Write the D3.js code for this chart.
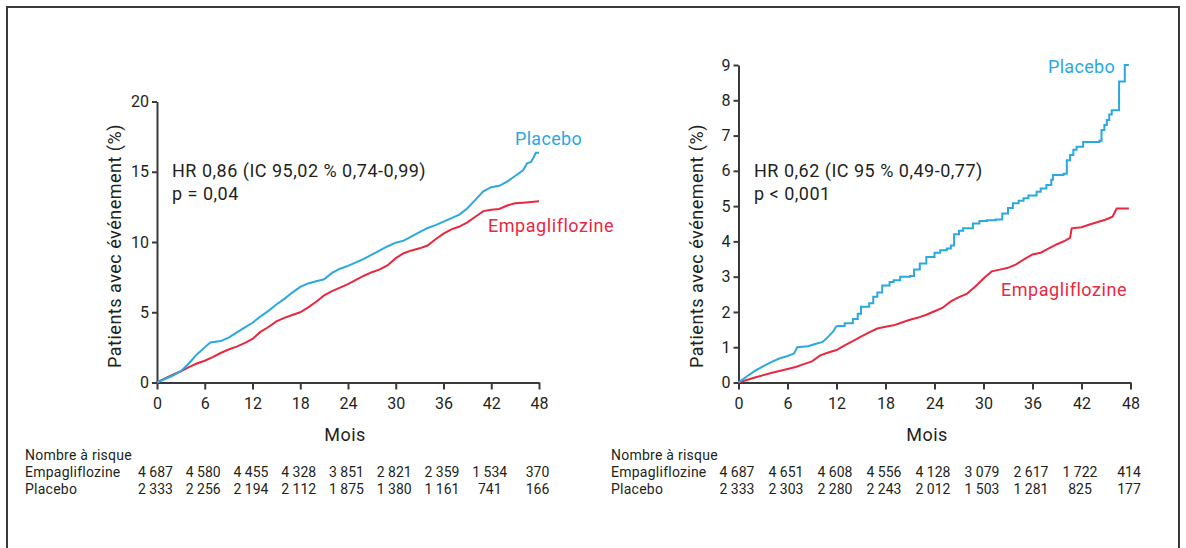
<!DOCTYPE html>
<html>
<head>
<meta charset="utf-8">
<script src="https://d3js.org/d3.v7.min.js"></script>
<style>
  body { margin: 0; background: #fff; }
  svg { font-family: "Roboto", sans-serif; }
  .axis path, .axis line { stroke: #3a3a3a; stroke-width: 2; }
  .axis text { font-family: "Roboto", sans-serif; font-size: 16px; fill: #231f20; }
  .lbl { fill: #231f20; letter-spacing: 0.5px; }
</style>
</head>
<body>
<svg id="chart" width="1186" height="548"></svg>
<script>
// months at which the numbers at risk are given (also x ticks)
var months = [0, 6, 12, 18, 24, 30, 36, 42, 48];

// left panel : [month, % patients]
var leftPlacebo = [[0,0],[1,0.25],[2,0.5],[3,0.8],[4,1.35],[5,2.0],[6,2.5],[6.7,2.85],[8,2.95],[9,3.2],[10,3.55],[11,3.9],[12,4.25],[13,4.7],[14,5.1],[15,5.55],[16,5.95],[17,6.4],[18,6.8],[19,7.05],[20,7.2],[21,7.35],[22,7.8],[23,8.1],[24,8.3],[25,8.55],[26,8.8],[27,9.1],[28,9.4],[29,9.7],[30,9.95],[31,10.1],[32,10.4],[33,10.7],[34,11.0],[35,11.2],[36,11.45],[37,11.7],[38,11.95],[39,12.4],[40,13.0],[41,13.6],[42,13.9],[43,14.0],[44,14.3],[45,14.7],[46,15.1],[46.5,15.6],[47,15.7],[47.3,16.0],[47.6,16.35],[48,16.35]];
var leftEmpa = [[0,0],[1,0.3],[2,0.55],[3,0.8],[4,1.1],[5,1.35],[6,1.55],[7,1.8],[8,2.1],[9,2.35],[10,2.55],[11,2.8],[12,3.1],[13,3.6],[14,3.95],[15,4.35],[16,4.6],[17,4.8],[18,5.0],[19,5.35],[20,5.75],[21,6.2],[22,6.5],[23,6.75],[24,7.0],[25,7.3],[26,7.6],[27,7.85],[28,8.05],[29,8.35],[30,8.85],[31,9.2],[32,9.4],[33,9.55],[34,9.75],[35,10.2],[36,10.6],[37,10.9],[38,11.1],[39,11.4],[40,11.8],[41,12.2],[42,12.3],[43,12.35],[44,12.6],[45,12.75],[46,12.8],[47,12.85],[48,12.9]];

// right panel : [month, % patients]
var rightPlacebo = [[0,0],[1,0.17],[2,0.33],[3,0.46],[4,0.58],[5,0.68],[6,0.75],[6.8,0.82],[7.2,1.0],[8.5,1.03],[9.5,1.1],[10.3,1.15],[11,1.3],[11.6,1.45],[12,1.6],[13,1.68],[14,1.8],[14.6,1.95],[15,2.15],[16,2.25],[16.5,2.43],[17,2.55],[17.6,2.75],[18.5,2.85],[19,2.9],[19.8,3.0],[21,3.02],[21.5,3.2],[22.2,3.37],[23,3.56],[24,3.68],[24.7,3.75],[25.5,3.8],[26,3.88],[26.4,4.2],[27,4.3],[27.5,4.37],[28.7,4.51],[29.5,4.58],[30.4,4.6],[31.5,4.62],[32.3,4.79],[33,4.95],[33.6,5.08],[34.3,5.15],[34.9,5.22],[35.5,5.3],[36.5,5.41],[37,5.5],[37.7,5.6],[38.3,5.75],[38.5,5.88],[39.8,5.92],[40.2,6.3],[40.6,6.45],[41,6.6],[41.4,6.68],[42.2,6.82],[44.2,6.85],[44.45,7.16],[44.8,7.3],[45.1,7.44],[45.4,7.6],[45.7,7.72],[46.6,8.53],[47.3,9.0],[47.8,9.0]];
var rightEmpa = [[0,0],[2,0.14],[4,0.27],[6,0.38],[7,0.44],[8,0.52],[9,0.6],[10,0.77],[11,0.85],[12,0.92],[13,1.05],[14,1.17],[15,1.3],[16,1.42],[17,1.53],[18,1.58],[19,1.62],[20,1.7],[21,1.78],[22,1.84],[23,1.92],[24,2.02],[25,2.12],[26,2.3],[27,2.42],[28,2.52],[29,2.72],[30,2.95],[31,3.15],[32,3.2],[33,3.25],[34,3.35],[35,3.5],[36,3.63],[37,3.68],[38,3.8],[39,3.92],[40,4.02],[40.6,4.1],[40.8,4.37],[42,4.4],[43,4.48],[44,4.55],[45,4.62],[45.8,4.7],[46.3,4.93],[47.8,4.93]];

// numbers at risk
var leftRiskEmpa = [4687, 4580, 4455, 4328, 3851, 2821, 2359, 1534, 370];
var leftRiskPlacebo = [2333, 2256, 2194, 2112, 1875, 1380, 1161, 741, 166];
var rightRiskEmpa = [4687, 4651, 4608, 4556, 4128, 3079, 2617, 1722, 414];
var rightRiskPlacebo = [2333, 2303, 2280, 2243, 2012, 1503, 1281, 825, 177];

var leftYTicks = [0, 5, 10, 15, 20];
var rightYTicks = [0, 1, 2, 3, 4, 5, 6, 7, 8, 9];

var blue = "#2aa8e0", red = "#e8283f";

var svg = d3.select("#chart");

// frame
svg.append("path")
  .attr("d", "M7,548V7H1179V548")
  .attr("fill", "none").attr("stroke", "#3a3a3a").attr("stroke-width", 2);

var fmt = function(n) { return n >= 1000 ? Math.floor(n / 1000) + " " + String(n % 1000).padStart(3, "0") : String(n); };

function panel(o) {
  var x = d3.scaleLinear().domain([0, 48]).range([o.x0, o.x1]);
  var y = d3.scaleLinear().domain([0, o.ymax]).range([382.5, o.ytop]);

  svg.append("g").attr("class", "axis")
    .attr("transform", "translate(0,382.5)")
    .call(d3.axisBottom(x).tickValues(months).tickSize(7).tickSizeOuter(0).tickPadding(8));
  svg.append("g").attr("class", "axis")
    .attr("transform", "translate(" + o.x0 + ",0)")
    .call(d3.axisLeft(y).tickValues(o.yticks).tickSize(5).tickSizeOuter(0).tickPadding(3));

  var line = d3.line().x(function(d) { return x(d[0]); }).y(function(d) { return y(d[1]); });
  svg.append("path").datum(o.empa)
    .attr("d", line.curve(d3.curveLinear))
    .attr("fill", "none").attr("stroke", red).attr("stroke-width", 2);

  // placebo: smooth part, then staircase part from stepFrom on
  var smooth = o.placebo.filter(function(d) { return d[0] <= o.stepFrom; });
  var steps = o.placebo.filter(function(d) { return d[0] >= o.stepFrom; });
  svg.append("path").datum(smooth)
    .attr("d", line.curve(d3.curveLinear))
    .attr("fill", "none").attr("stroke", blue).attr("stroke-width", 2);
  if (steps.length > 1) {
    svg.append("path").datum(steps)
      .attr("d", line.curve(d3.curveStepAfter))
      .attr("fill", "none").attr("stroke", blue).attr("stroke-width", 2);
  }

  // y label
  svg.append("text").attr("class", "lbl")
    .attr("transform", "translate(" + o.ylabX + ",246) rotate(-90)")
    .attr("text-anchor", "middle").style("font-size", "18px")
    .text("Patients avec événement (%)");
  // x label
  svg.append("text").attr("class", "lbl")
    .attr("x", o.moisX).attr("y", 441).attr("text-anchor", "middle")
    .style("font-size", "18px").text("Mois");

  // HR annotation
  svg.append("text").attr("class", "lbl").attr("x", o.hrX).attr("y", 177)
    .style("font-size", "18px").text(o.hr);
  svg.append("text").attr("class", "lbl").attr("x", o.hrX).attr("y", 200)
    .style("font-size", "18px").text(o.p);

  // series labels
  svg.append("text").attr("x", o.plX).attr("y", o.plY)
    .style("font-size", "18px").style("letter-spacing", "0.3px").attr("fill", blue).text("Placebo");
  svg.append("text").attr("x", o.emX).attr("y", o.emY)
    .style("font-size", "18px").style("letter-spacing", "0.55px").attr("fill", red).text("Empagliflozine");

  // numbers at risk
  var t = svg.append("g").style("font-size", "14px").attr("fill", "#231f20");
  t.append("text").attr("x", o.tabX).attr("y", 460).style("letter-spacing", "0.25px").text("Nombre à risque");
  t.append("text").attr("x", o.tabX).attr("y", 477).style("letter-spacing", "0.25px").text("Empagliflozine");
  t.append("text").attr("x", o.tabX).attr("y", 494).style("letter-spacing", "0.25px").text("Placebo");
  t.selectAll(".re").data(o.riskEmpa).enter().append("text")
    .attr("x", function(d, i) { return x(months[i]) - 1.5; }).attr("y", 477)
    .attr("text-anchor", "middle").text(fmt);
  t.selectAll(".rp").data(o.riskPlacebo).enter().append("text")
    .attr("x", function(d, i) { return x(months[i]) - 1.5; }).attr("y", 494)
    .attr("text-anchor", "middle").text(fmt);
}

panel({
  x0: 157, x1: 539, ymax: 20, ytop: 101.5, yticks: leftYTicks,
  empa: leftEmpa, placebo: leftPlacebo, stepFrom: 48,
  ylabX: 121, moisX: 345, hrX: 172,
  hr: "HR 0,86 (IC 95,02 % 0,74-0,99)", p: "p = 0,04",
  plX: 515, plY: 145, emX: 488, emY: 232, tabX: 25,
  riskEmpa: leftRiskEmpa, riskPlacebo: leftRiskPlacebo
});
panel({
  x0: 738.5, x1: 1130.5, ymax: 9, ytop: 65, yticks: rightYTicks,
  empa: rightEmpa, placebo: rightPlacebo, stepFrom: 12,
  ylabX: 703, moisX: 927, hrX: 754,
  hr: "HR 0,62 (IC 95 % 0,49-0,77)", p: "p < 0,001",
  plX: 1048, plY: 73, emX: 1001, emY: 296, tabX: 611,
  riskEmpa: rightRiskEmpa, riskPlacebo: rightRiskPlacebo
});
</script>
</body>
</html>
